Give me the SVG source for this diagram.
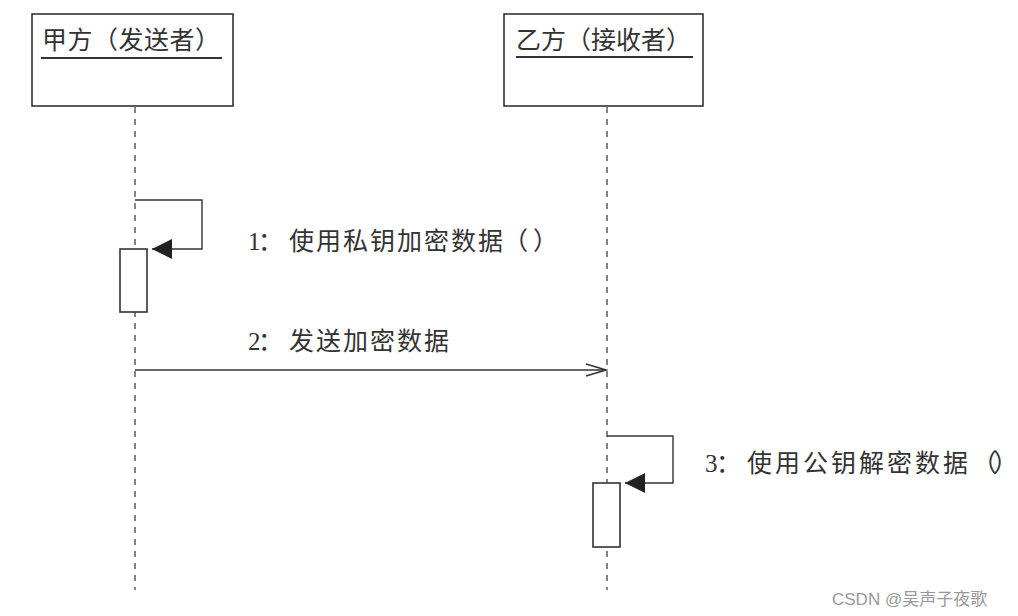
<svg xmlns="http://www.w3.org/2000/svg" width="1018" height="616" viewBox="0 0 1018 616">
<defs>
<style>
.box{fill:#fff;stroke:#333;stroke-width:1.6}
.txt{font-family:"Liberation Serif","Noto Sans CJK SC",serif;fill:#333;font-size:25px}
.life{stroke:#444;stroke-width:1.3;stroke-dasharray:6,6;fill:none}
.msg{stroke:#333;stroke-width:1.4;fill:none}
.ul{stroke:#333;stroke-width:2}
</style>
<marker id="filled" markerWidth="20" markerHeight="22" refX="20" refY="11" orient="auto" markerUnits="userSpaceOnUse">
<path d="M0,1 L20,11 L0,21 Z" fill="#222"/>
</marker>
<marker id="open" markerWidth="24" markerHeight="14" refX="22" refY="7" orient="auto" markerUnits="userSpaceOnUse">
<path d="M2,1 L22,7 L2,13" fill="none" stroke="#333" stroke-width="1.4"/>
</marker>
</defs>
<rect width="1018" height="616" fill="#fff"/>
<g id="connectors">
<line class="life" x1="135" y1="107" x2="135" y2="590"/>
<line class="life" x1="607" y1="107" x2="607" y2="590"/>
<path class="msg" d="M135,200 H202 V249 H152" marker-end="url(#filled)"/>
<line class="msg" x1="135" y1="370" x2="606" y2="370" marker-end="url(#open)"/>
<path class="msg" d="M607,436 H673 V483 H625" marker-end="url(#filled)"/>
</g>
<g id="nodeA">
<rect class="box" x="32" y="14" width="201" height="92"/>
<text class="txt" x="42" y="49" textLength="178" lengthAdjust="spacing">甲方（发送者）</text>
<line class="ul" x1="41" y1="58" x2="222" y2="58"/>
</g>
<g id="nodeB">
<rect class="box" x="504" y="14" width="199" height="92"/>
<text class="txt" x="516" y="49" textLength="175" lengthAdjust="spacing">乙方（接收者）</text>
<line class="ul" x1="516" y1="57" x2="693" y2="57"/>
</g>
<g id="actA">
<rect class="box" x="120" y="249" width="27" height="63"/>
</g>
<g id="actB">
<rect class="box" x="593" y="483" width="27" height="64"/>
</g>
<g id="label1"><text class="txt" x="248 258 289 316 343 370 397 424 451 478 503 533" y="250">1：使用私钥加密数据（）</text></g>
<g id="label2"><text class="txt" x="248 258 289 316 343 370 397 424" y="350">2：发送加密数据</text></g>
<g id="label3"><text class="txt" x="705 716 747 775 803 831 859 887 915 943 972 993" y="472">3：使用公钥解密数据（）</text></g>
<text x="832" y="605" font-family="Liberation Sans,'Noto Sans CJK SC',sans-serif" font-size="17" fill="#999">CSDN @吴声子夜歌</text>
</svg>
